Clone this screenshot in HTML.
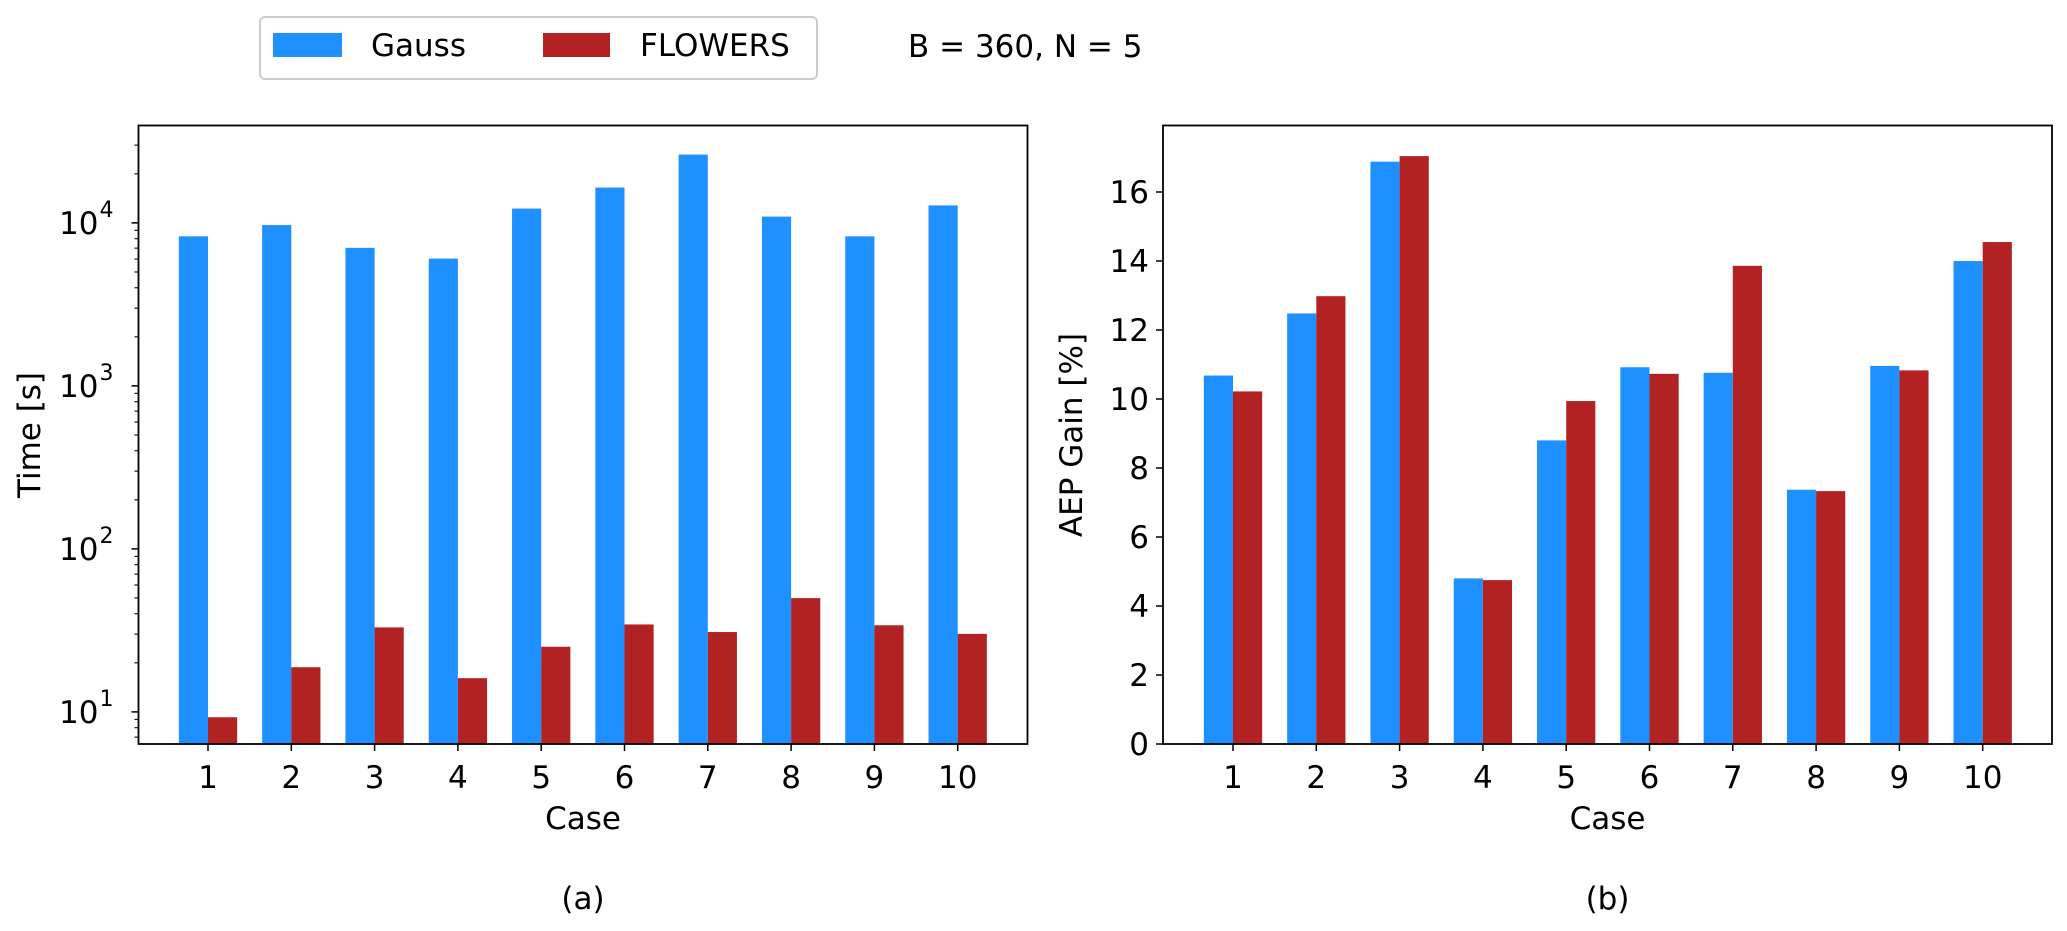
<!DOCTYPE html>
<html><head><meta charset="utf-8"><style>
html,body{margin:0;padding:0;background:#fff}
svg{display:block;font-family:"DejaVu Sans","Liberation Sans",sans-serif}
</style></head><body>
<svg id="fig" width="2067" height="931" viewBox="0 0 2067 931">
<g id="legend">
<rect x="260" y="17" width="557" height="62" rx="5" fill="#fff" stroke="#ccc" stroke-width="2"/>
<rect x="273" y="33" width="69" height="24" fill="#1e90ff"/>
<text x="371" y="56" font-size="31">Gauss</text>
<rect x="543" y="33" width="67" height="24" fill="#b22222"/>
<text x="640" y="56" font-size="31">FLOWERS</text>
</g>
<text x="908" y="57" font-size="31">B = 360, N = 5</text>
<g id="pa"></g>
<g id="pb"></g>
</svg>
<script>
const cases = [1,2,3,4,5,6,7,8,9,10];
const timeGauss = [8270,9700,7030,6040,12240,16470,26240,10930,8270,12800];
const timeFlowers = [9.27,18.8,33.0,16.1,25.1,34.4,30.9,49.9,34.0,30.1];
const aepGauss = [10.68,12.48,16.88,4.8,8.8,10.92,10.76,7.37,10.96,14.0];
const aepFlowers = [10.22,12.98,17.04,4.75,9.94,10.73,13.86,7.33,10.83,14.55];
const logTicks = [1,2,3,4];
const aepTicks = [0,2,4,6,8,10,12,14,16];

const NS = "http://www.w3.org/2000/svg";
function mk(parent, tag, attrs, text){
  const e = document.createElementNS(NS, tag);
  for (const k in attrs) e.setAttribute(k, attrs[k]);
  if (text !== undefined) e.textContent = text;
  parent.appendChild(e); return e;
}
const TOP = 125.5, BOT = 744, BW = 0.35;

function panel(g, L, R, yOf, x1px, gauss, flowers, yTicksFn, ylabel, ylabelX, tag){
  const step = 83.3;
  const xOf = c => x1px + (c-1)*step;
  // bars
  cases.forEach((c,i)=>{
    const yb = yOf(gauss[i]);
    const b = mk(g,'rect',{x:xOf(c)-BW*step, y:yb, width:BW*step, height:BOT-yb, fill:'#1e90ff'});
    
    
    const yr = yOf(flowers[i]);
    const r = mk(g,'rect',{x:xOf(c), y:yr, width:BW*step, height:BOT-yr, fill:'#b22222'});
    
    
    const t = mk(g,'line',{x1:xOf(c),x2:xOf(c),y1:BOT,y2:BOT+7,stroke:'#000','stroke-width':1.5});
    
    
    const tl = mk(g,'text',{x:xOf(c), y:BOT+44, 'font-size':31, 'text-anchor':'middle'}, String(c));
    
    
  });
  yTicksFn(g);
  const fr = mk(g,'rect',{x:L,y:TOP,width:R-L,height:BOT-TOP,fill:'none',stroke:'#000','stroke-width':1.8});
  
  
  const cx = (L+R)/2;
  const xt = mk(g,'text',{x:cx,y:829,'font-size':31,'text-anchor':'middle'},'Case');
  
  
  const yt = mk(g,'text',{x:0,y:0,'font-size':31,'text-anchor':'middle',transform:`translate(${ylabelX},435) rotate(-90)`},ylabel);
  
  
  const sub = mk(g,'text',{x:cx,y:909,'font-size':31,'text-anchor':'middle'},tag);
  
  
}

// Panel a (log)
const LA = 138.5, RA = 1027.5, dec = 163, y10k = 222.9;
const yLog = v => y10k - (Math.log10(v)-4)*dec;
panel(document.getElementById('pa'), LA, RA, yLog, 208, timeGauss, timeFlowers, g=>{
  for (let d=0; d<=4; d++){
    for (let m=1; m<10; m++){
      const v = m*Math.pow(10,d); const y = yLog(v);
      if (y < TOP || y > BOT) continue;
      const t = mk(g,'line',{x1:LA-(m===1?7:4),x2:LA,y1:y,y2:y,stroke:'#000','stroke-width':m===1?1.5:1.1});
      
      
    }
  }
  logTicks.forEach(p=>{
    const y = yLog(Math.pow(10,p));
    const tx = mk(g,'text',{x:LA-40,y:y+11,'font-size':31,'text-anchor':'end'},'10');
    
    
    const sp = mk(g,'text',{x:LA-39,y:y-6,'font-size':22},String(p));
    
    
  });
}, 'Time [s]', 40, '(a)');

// Panel b (linear)
const LB = 1163, RB = 2052, perUnit = 34.5;
const yLin = v => BOT - v*perUnit;
panel(document.getElementById('pb'), LB, RB, yLin, 1233, aepGauss, aepFlowers, g=>{
  aepTicks.forEach(v=>{
    const y = yLin(v);
    const t = mk(g,'line',{x1:LB-7,x2:LB,y1:y,y2:y,stroke:'#000','stroke-width':1.5});
    
    
    const tl = mk(g,'text',{x:LB-14,y:y+11,'font-size':31,'text-anchor':'end'},String(v));
    
    
  });
}, 'AEP Gain [%]', 1082, '(b)');
</script>
</body></html>
